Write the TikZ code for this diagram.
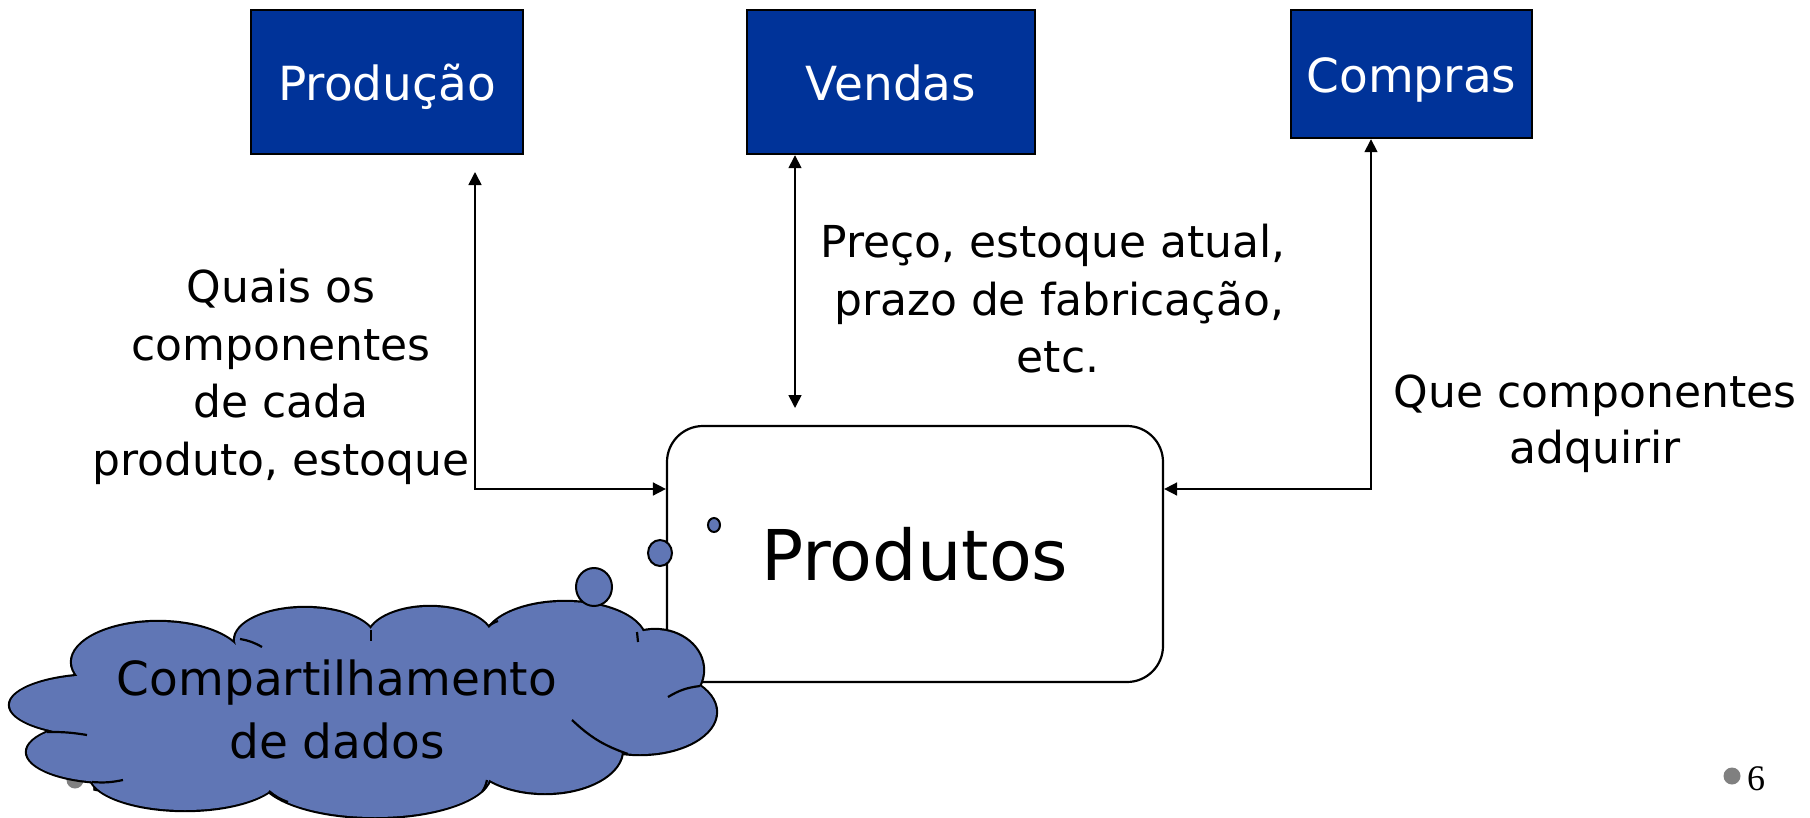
\documentclass[tikz,border=0pt]{standalone}
\usepackage{fontspec}
\setmainfont{DejaVu Sans}
\newfontfamily\numfont{Liberation Serif}
\usetikzlibrary{arrows.meta}
\definecolor{boxblue}{RGB}{0,51,153}
\definecolor{cloudblue}{RGB}{96,118,181}
\definecolor{bulletgray}{RGB}{128,128,128}
\begin{document}
\begin{tikzpicture}[x=1pt,y=-1pt,
  dept/.style={draw=black, line width=2.4pt, fill=boxblue, text=white, inner sep=0pt,
    font=\fontsize{47}{56}\selectfont, text height=36pt, text depth=0pt},
  lbl/.style={inner sep=0pt, anchor=base, font=\fontsize{44}{58}\selectfont},
  conn/.style={line width=1.6pt, {Triangle[length=13pt,width=13pt]}-{Triangle[length=13pt,width=13pt]}},
  bubble/.style={draw=black, line width=2pt, fill=cloudblue},
  crease/.style={draw=black, line width=2.2pt},
  cloudtxt/.style={inner sep=0pt, anchor=base, font=\fontsize{47}{60}\selectfont},
  pagenum/.style={anchor=base west, inner sep=0pt, font=\numfont\fontsize{36}{40}\selectfont},
]
\useasboundingbox (0,0) rectangle (1810,817);

% department boxes
\node[dept, minimum width=272pt, minimum height=144pt] (prod) at (387,82) {Produção};
\node[dept, minimum width=288pt, minimum height=144pt] (vend) at (891,82) {Vendas};
\node[dept, minimum width=241pt, minimum height=128pt] (comp) at (1411.5,74) {Compras};

% central box
\node[draw, line width=2.2pt, rounded corners=36pt, minimum width=496pt, minimum height=256pt,
  inner sep=0pt, font=\fontsize{70}{84}\selectfont, text height=52pt, text depth=0pt]
  (produtos) at (915,554) {Produtos};

% connectors
\coordinate (ptop) at (475,172);
\coordinate (pbend) at (475,489);
\draw[conn] (ptop) -- (pbend) -- (pbend -| produtos.west);
\coordinate (vbot) at (795,408);
\draw[conn] (vend.south -| vbot) -- (vbot);
\coordinate (cbend) at (1371,489);
\draw[conn] (comp.south -| cbend) -- (cbend) -- (cbend -| produtos.east);

% labels
\node[lbl] (q1) at (281,302) {Quais os};
\node[lbl] (q2) at (281,360) {componentes};
\node[lbl] (q3) at (281,417) {de cada};
\node[lbl] (q4) at (281,475) {produto, estoque};
\node[lbl] (v1) at (1053,257) {Preço, estoque atual,};
\node[lbl] (v2) at (1059,315) {prazo de fabricação,};
\node[lbl] (v3) at (1058,372) {etc.};
\node[lbl] (c1) at (1595,407) {Que componentes};
\node[lbl] (c2) at (1595,463) {adquirir};

% hidden slide number under the cloud
\fill[bulletgray] (75,780) circle[radius=8.5];
\node[pagenum] (pg5) at (91,791) {5};

% cloud
\def\cloudlist{100/705/90/30, 110/752/83/30, 185/775/95/35, 375/775/115/42, 545/750/77/43,
  640/712/76/42, 655/670/48/40, 565/640/80/38, 430/638/62/31, 305/640/70/32, 158/662/86/40}
\foreach \cx/\cy/\rx/\ry in \cloudlist
  \fill[black] (\cx,\cy) ellipse [x radius=\rx+2.2, y radius=\ry+2.2];
\foreach \cx/\cy/\rx/\ry in \cloudlist
  \fill[cloudblue] (\cx,\cy) ellipse [x radius=\rx, y radius=\ry];
\fill[cloudblue] (370,705) ellipse [x radius=285, y radius=62];
\draw[crease] (240,639) to[bend left=10] (262,647);
\draw[crease] (371,630) -- (371,641);
\draw[crease] (489,626) to[bend left=10] (498,621);
\draw[crease] (637,632) -- (638,642);
\draw[crease] (700,686) to[bend right=12] (668,697);
\draw[crease] (628,754) to[bend left=12] (572,720);
\draw[crease] (487,780) to[bend left=10] (482,792);
\draw[crease] (269,791) to[bend right=10] (288,802);
\draw[crease] (92,782) to[bend right=8] (123,780);
\draw[crease] (47,732) to[bend left=5] (87,735);
\node[cloudtxt] (cl1) at (337,695) {Compartilhamento};
\node[cloudtxt] (cl2) at (337,758) {de dados};

% thought bubbles
\draw[bubble] (594,587) ellipse [x radius=18, y radius=19];
\draw[bubble] (660,553) ellipse [x radius=12, y radius=13];
\draw[bubble] (714,525) ellipse [x radius=6, y radius=7];

% slide number
\fill[bulletgray] (1732,776) circle[radius=8.5];
\node[pagenum] (pg6) at (1747,790) {6};
\end{tikzpicture}
\end{document}
